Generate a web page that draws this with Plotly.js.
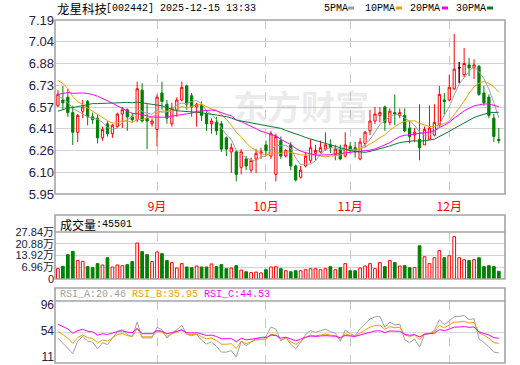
<!DOCTYPE html>
<html><head><meta charset="utf-8">
<script src="https://cdn.plot.ly/plotly-3.0.1.min.js"></script>
<style>html,body{margin:0;padding:0;background:#fff}#chart{width:520px;height:365px}</style>
</head><body><div id="chart"></div>
<script>
// ---- data ----
const dates = [
 '2025-08-04','2025-08-05','2025-08-06','2025-08-07','2025-08-08','2025-08-11','2025-08-12','2025-08-13','2025-08-14','2025-08-15',
 '2025-08-18','2025-08-19','2025-08-20','2025-08-21','2025-08-22','2025-08-25','2025-08-26','2025-08-27','2025-08-28','2025-08-29',
 '2025-09-01','2025-09-02','2025-09-03','2025-09-04','2025-09-05','2025-09-08','2025-09-09','2025-09-10','2025-09-11','2025-09-12',
 '2025-09-15','2025-09-16','2025-09-17','2025-09-18','2025-09-19','2025-09-22','2025-09-23','2025-09-24','2025-09-25','2025-09-26',
 '2025-09-29','2025-09-30','2025-10-09','2025-10-10','2025-10-13','2025-10-14','2025-10-15','2025-10-16','2025-10-17','2025-10-20',
 '2025-10-21','2025-10-22','2025-10-23','2025-10-24','2025-10-27','2025-10-28','2025-10-29','2025-10-30','2025-10-31','2025-11-03',
 '2025-11-04','2025-11-05','2025-11-06','2025-11-07','2025-11-10','2025-11-11','2025-11-12','2025-11-13','2025-11-14','2025-11-17',
 '2025-11-18','2025-11-19','2025-11-20','2025-11-21','2025-11-24','2025-11-25','2025-11-26','2025-11-27','2025-11-28','2025-12-01',
 '2025-12-02','2025-12-03','2025-12-04','2025-12-05','2025-12-08','2025-12-09','2025-12-10','2025-12-11','2025-12-12','2025-12-15'];

const open = [6.58,6.62,6.64,6.53,6.39,6.54,6.61,6.50,6.49,6.35, 6.45,6.38,6.43,6.52,6.55,6.50,6.48,6.69,6.49,6.45,
 6.41,6.67,6.59,6.45,6.55,6.62,6.72,6.65,6.57,6.58, 6.52,6.45,6.46,6.45,6.35,6.25,6.25,6.14,6.20,6.12,
 6.20,6.24,6.30,6.22,6.09,6.33,6.22,6.30,6.15,6.07, 6.15,6.19,6.24,6.25,6.27,6.30,6.23,6.27,6.22,6.29,
 6.28,6.20,6.31,6.40,6.47,6.51,6.57,6.46,6.53,6.51, 6.51,6.42,6.37,6.34,6.30,6.34,6.37,6.44,6.62,6.62,
 6.70,6.85,6.80,6.87,6.85,6.86,6.67,6.64,6.49,6.34];
const high = [6.69,6.72,6.70,6.58,6.52,6.62,6.62,6.53,6.52,6.43, 6.47,6.45,6.53,6.57,6.56,6.53,6.75,6.74,6.59,6.49,
 6.66,6.75,6.62,6.60,6.64,6.75,6.73,6.67,6.60,6.61, 6.54,6.49,6.50,6.47,6.36,6.31,6.26,6.27,6.22,6.21,
 6.27,6.28,6.33,6.40,6.38,6.36,6.27,6.32,6.16,6.15, 6.25,6.34,6.30,6.33,6.39,6.34,6.30,6.30,6.39,6.32,
 6.32,6.35,6.40,6.55,6.57,6.57,6.58,6.56,6.66,6.56, 6.56,6.47,6.42,6.59,6.43,6.58,6.59,6.72,6.67,6.80,
 7.09,6.89,6.99,6.92,6.91,6.87,6.72,6.66,6.52,6.42];
const low = [6.57,6.55,6.50,6.30,6.32,6.49,6.44,6.45,6.31,6.33, 6.36,6.35,6.42,6.42,6.40,6.46,6.46,6.46,6.27,6.43,
 6.29,6.55,6.45,6.43,6.50,6.61,6.55,6.50,6.43,6.47, 6.40,6.38,6.37,6.25,6.22,6.10,6.04,6.09,6.12,6.10,
 6.10,6.20,6.22,6.20,6.04,6.20,6.21,6.12,6.04,6.06, 6.14,6.17,6.19,6.24,6.26,6.24,6.19,6.19,6.21,6.24,
 6.21,6.19,6.28,6.37,6.45,6.46,6.40,6.44,6.44,6.49, 6.39,6.31,6.32,6.19,6.30,6.34,6.36,6.43,6.52,6.61,
 6.69,6.74,6.78,6.79,6.77,6.65,6.58,6.49,6.32,6.31];
const close = [6.66,6.60,6.53,6.39,6.51,6.57,6.50,6.48,6.35,6.41, 6.38,6.44,6.52,6.55,6.50,6.48,6.70,6.47,6.47,6.47,
 6.64,6.61,6.49,6.56,6.62,6.71,6.59,6.57,6.59,6.51, 6.45,6.47,6.40,6.27,6.27,6.28,6.09,6.25,6.15,6.19,
 6.24,6.25,6.26,6.38,6.36,6.22,6.26,6.15,6.05,6.12, 6.22,6.28,6.26,6.28,6.30,6.28,6.27,6.20,6.30,6.27,
 6.25,6.32,6.39,6.47,6.52,6.53,6.46,6.54,6.52,6.53, 6.40,6.36,6.39,6.28,6.41,6.42,6.46,6.66,6.61,6.71,
 6.84,6.85,6.88,6.85,6.87,6.66,6.60,6.51,6.36,6.33];
// volume in 万 (10k lots); last one = 45501
const volume = [6.1,7.5,14.4,16.4,10.9,10.5,7.3,6.7,9.1,8.3, 12.6,7.1,8.3,7.9,8.5,10.3,21.3,16.2,14.4,10.3,
 16.0,15.0,10.9,9.7,6.5,9.1,7.1,6.7,7.7,7.1, 7.1,8.9,7.3,8.5,6.1,6.5,7.9,5.3,4.3,3.8,
 4.1,3.6,5.5,7.1,7.3,6.1,4.9,4.3,4.9,4.9, 5.5,6.1,6.1,5.5,6.1,7.3,5.5,6.7,9.1,4.9,
 4.9,6.5,7.7,9.1,6.1,9.7,7.3,10.9,9.7,7.7, 7.9,6.7,6.7,19.7,13.2,9.1,12.6,16.8,12.6,13.8,
 25.1,12.6,11.4,10.9,11.4,12.6,7.3,7.9,7.3,4.5501];
// closes before the window, estimated from where the MA lines start
const priorClose = [6.22,6.25,6.28,6.26,6.30,6.33,6.31,6.35,6.32,6.38,
 6.42,6.45,6.50,6.48,6.55,6.58,6.62,6.60,6.70,6.71,
 6.80,6.92,6.95,6.86,6.80, 6.72,6.66,6.60,6.62];

const priceTicks = [5.95,6.105,6.26,6.415,6.57,6.725,6.88,7.035,7.19];
const priceTickText = ['5.95','6.10','6.26','6.41','6.57','6.73','6.88','7.04','7.19'];
const volTicks = [0,6.96,13.92,20.88,27.84];
const volTickText = ['0','6.96万','13.92万','20.88万','27.84万'];
const rsiTicks = [11,54,96];
const monthTicks = ['2025-09-01','2025-10-09','2025-11-03','2025-12-01'];
const monthText = ['9月','10月','11月','12月'];
const titleName = '龙星科技';
const titleRest = '[002442] 2025-12-15 13:33';
const maNames = ['5PMA','10PMA','20PMA','30PMA'];
const maPeriods = [5,10,20,30];
const rsiNames = ['RSI_A:20.46','RSI_B:35.95','RSI_C:44.53'];
const rsiPeriods = [6,12,24];
const volTitle = '成交量';
const volLast = ':45501';

// ---- derived series ----
const allClose = priorClose.concat(close);
const P = priorClose.length;
function ma(n){
  return close.map((_, i) => { const j = i + P; let s = 0; for (let k = j - n + 1; k <= j; k++) s += allClose[k]; return s / n; });
}
function rsi(n){
  let up = 0, dn = 0; const out = [];
  for (let k = 1; k < allClose.length; k++) {
    const d = allClose[k] - allClose[k-1];
    if (k === 1) { up = Math.max(d,0); dn = Math.abs(d); }
    else { up = (Math.max(d,0) + (n-1)*up)/n; dn = (Math.abs(d) + (n-1)*dn)/n; }
    if (k >= P) out.push(dn === 0 ? 50 : up/dn*100);
  }
  return out;
}
const isUp = close.map((c,i) => c > open[i] || (c === open[i] && c >= (i ? close[i-1] : c)));

const RED = '#ff0000', GREEN = '#008000';
const maColors = ['#a0a0a0','#f0a000','#ff00ff','#0a7a32'];
const rsiColors = ['#a0a0a0','#f0a000','#ff00ff'];

const traces = [];
traces.push({type:'candlestick', x:dates, open, high, low, close, xaxis:'x', yaxis:'y',
  increasing:{line:{color:RED,width:1}, fillcolor:'#ffffff'},
  decreasing:{line:{color:GREEN,width:1}, fillcolor:GREEN}, whiskerwidth:0, hoverinfo:'skip'});
const dj = dates.map((d,i)=>i).filter(i => open[i] === close[i]);
traces.push({type:'candlestick', x:dj.map(i=>dates[i]), open:dj.map(i=>open[i]), high:dj.map(i=>high[i]),
  low:dj.map(i=>low[i]), close:dj.map(i=>close[i]), xaxis:'x', yaxis:'y',
  increasing:{line:{color:'#000',width:1}, fillcolor:'#000'},
  decreasing:{line:{color:'#000',width:1}, fillcolor:'#000'}, whiskerwidth:0, hoverinfo:'skip'});
maPeriods.forEach((n,k) => traces.push({type:'scatter', mode:'lines', x:dates, y:ma(n), xaxis:'x', yaxis:'y',
  line:{color:maColors[k], width:1}, hoverinfo:'skip'}));
traces.push({type:'bar', x:dates, y:volume, xaxis:'x2', yaxis:'y2', width:0.55,
  marker:{color:isUp.map(u=>u?'#ffffff':GREEN), line:{color:isUp.map(u=>u?RED:GREEN), width:1}}, hoverinfo:'skip'});
rsiPeriods.forEach((n,k) => traces.push({type:'scatter', mode:'lines', x:dates, y:rsi(n), xaxis:'x3', yaxis:'y3',
  line:{color:rsiColors[k], width:1}, hoverinfo:'skip'}));

// ---- layout ----
const H = 365, L = 55, W = 450;
const py = p => 1 - p/H;
const px = p => (p - L)/W;
const xr = [-0.59, 90.25];
const xbase = {type:'category', categoryorder:'array', categoryarray:dates, range:xr, tickvals:monthTicks, ticktext:monthText,
  showgrid:true, gridcolor:'#c8c8c8', griddash:'dash', gridwidth:1, zeroline:false, showline:false, ticks:'', fixedrange:true};
const tickFont = {family:'Liberation Sans, Arial, sans-serif', size:13, color:'#202048'};
const mono = 'Liberation Mono, DejaVu Sans Mono, monospace';
const cjk = 'Noto Sans CJK SC, sans-serif';
const gridC = '#d2d2d2', boxC = '#a4a4a4';

const ann = [];
function txt(t, x, y, font, extra){ ann.push(Object.assign({text:t, xref:'paper', yref:'paper', x:px(x), y:py(y), xanchor:'left', yanchor:'middle', showarrow:false, font}, extra||{})); }
txt(titleName, 55, 8.5, {family:cjk, size:12.5, color:'#000'});
txt(titleRest, 104, 8.5, {family:mono, size:10, color:'#000'});
const legX = [322, 363, 408, 454], legM = [348, 396, 442, 487];
maNames.forEach((t,k) => txt(t, legX[k], 8.5, {family:mono, size:10, color:'#000'}));
txt(volTitle, 57.5, 224, {family:cjk, size:12, color:'#000'});
txt(volLast, 94, 224, {family:mono, size:10, color:'#000'});
const rsiX = [57.5, 130, 202];
rsiNames.forEach((t,k) => txt(t, rsiX[k], 294.5, {family:mono, size:10, color:rsiColors[k]}));
ann.push({text:'东方财富', xref:'paper', yref:'paper', x:px(301), y:py(105), xanchor:'center', yanchor:'middle', showarrow:false,
  font:{family:cjk, size:34, color:'rgba(150,150,150,0.2)', weight:700}});

const shapes = [];
function rect(y0,y1){ shapes.push({type:'rect', xref:'paper', yref:'paper', x0:0, x1:1, y0:py(y1), y1:py(y0), line:{color:boxC, width:1.6}, fillcolor:'rgba(0,0,0,0)', layer:'above'}); }
function hline(y){ shapes.push({type:'line', xref:'paper', yref:'paper', x0:0, x1:1, y0:py(y), y1:py(y), line:{color:boxC, width:1.4}, layer:'above'}); }
rect(20,194); rect(215,279); hline(232); rect(288,363); hline(301);
shapes.push({type:'line', xref:'paper', yref:'y3', x0:0, x1:1, y0:54, y1:54, line:{color:gridC, width:1}, layer:'below'});
legM.forEach((m,k) => shapes.push({type:'rect', xref:'paper', yref:'paper', x0:px(m), x1:px(m+6), y0:py(9.5), y1:py(6.5), line:{width:0}, fillcolor:maColors[k]}));

const layout = {
  width:520, height:365, margin:{l:L, r:15, t:0, b:0}, paper_bgcolor:'#fff', plot_bgcolor:'#fff', showlegend:false,
  boxgap:0.35, hovermode:false,
  xaxis:Object.assign({}, xbase, {anchor:'y', domain:[0,1], rangeslider:{visible:false}, ticklabelstandoff:4, tickfont:{family:cjk, size:12, color:RED}}),
  xaxis2:Object.assign({}, xbase, {anchor:'y2', domain:[0,1], showticklabels:false}),
  xaxis3:Object.assign({}, xbase, {anchor:'y3', domain:[0,1], showticklabels:false}),
  yaxis:{domain:[py(194), py(20)], range:[5.95,7.19], tickvals:priceTicks, ticktext:priceTickText, tickfont:tickFont,
    ticklabeloverflow:'allow', gridcolor:gridC, zeroline:false, showline:false, ticks:'', fixedrange:true},
  yaxis2:{domain:[py(279), py(232)], range:[0,27.84], tickvals:volTicks, ticktext:volTickText,
    tickfont:{family:'Liberation Sans, Noto Sans CJK SC, sans-serif', size:11, color:'#202048'},
    ticklabeloverflow:'allow', gridcolor:gridC, zeroline:false, showline:false, ticks:'', fixedrange:true},
  yaxis3:{domain:[py(363), py(301)], range:[4.46,105.8], tickvals:rsiTicks, tickfont:Object.assign({}, tickFont, {size:12}),
    ticklabelshift:-2, ticklabeloverflow:'allow', showgrid:false, zeroline:false, showline:false, ticks:'', fixedrange:true},
  annotations:ann, shapes
};
Plotly.newPlot('chart', traces, layout, {staticPlot:true, displayModeBar:false});
</script></body></html>
